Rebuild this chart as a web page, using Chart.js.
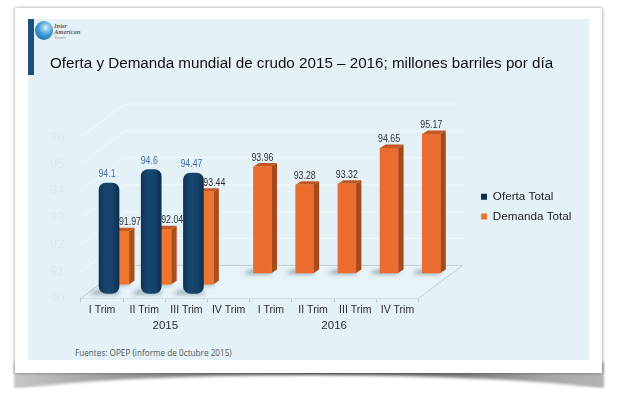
<!DOCTYPE html>
<html>
<head>
<meta charset="utf-8">
<title>Oferta y Demanda mundial de crudo</title>
<script src="https://cdn.jsdelivr.net/npm/chart.js@4"></script>
<style>
  html, body { margin: 0; padding: 0; background: #fff; }
  #page { position: relative; width: 622px; height: 393px; overflow: hidden; font-family: "Liberation Sans", Arial, sans-serif; }
  #curl { position: absolute; left: 14px; top: 362px; width: 590px; height: 26px;
          background: linear-gradient(to right, #c8c8c8, #a0a0a0 15%, #585858 50%, #777 75%, #a6a6a6 90%, #b4b4b4);
          filter: blur(1px); }
  #curlCut { position: absolute; left: 0; top: 375px; width: 622px; height: 22px; background: #fff;
             border-radius: 50% / 100% 100% 0 0; filter: blur(1.5px); }
  #card { position: absolute; left: 15px; top: 8px; width: 587px; height: 365px; background: #fff;
          box-shadow: -1px 0 3px rgba(0,0,0,.22), 1px 0 3px rgba(0,0,0,.22); }
  #panel { position: absolute; left: 28px; top: 19px; width: 561px; height: 341px; background: #e4f2f8; }
  #sidebar { position: absolute; left: 28px; top: 19px; width: 6px; height: 56px; background: #1d4f7c; }
  #globe { position: absolute; left: 35px; top: 21px; width: 18px; height: 19px; border-radius: 50%;
           background: radial-gradient(circle at 60% 35%, #d7eef8, #3f9ad2 45%, #0f5c9c); }
  .logo { position: absolute; left: 54px; font: italic bold 6.5px "Liberation Serif", serif; color: #55606a; }
  #source { position: absolute; left: 75px; top: 347px; font: 8.2px "Open Sans", sans-serif; color: #555; white-space: nowrap; }
  canvas { position: absolute; left: 0; top: 0; }
</style>
</head>
<body>
<div id="page">
  <div id="curl"></div>
  <div id="curlCut"></div>
  <div id="card"></div>
  <div id="panel"></div>
  <div id="sidebar"></div>
  <div id="globe"></div>
  <div class="logo" style="top:22px">Inter</div>
  <div class="logo" style="top:28px">American</div>
  <div class="logo" style="top:35px;font-size:4.5px;font-weight:normal;color:#8a949c">Trends</div>
  <div id="source">Fuentes: OPEP (informe de 0ctubre 2015)</div>
  <canvas id="chart1" width="622" height="393"></canvas>
</div>

<script>
const categories = ["I Trim", "II Trim", "III Trim", "IV Trim", "I Trim", "II Trim", "III Trim", "IV Trim"];
const years = ["2015", "2016"];
const yTicks = [90, 91, 92, 93, 94, 95, 96];
const ofertaTotal = [94.1, 94.6, 94.47, null, null, null, null, null];
const demandaTotal = [91.97, 92.04, 93.44, 93.96, 93.28, 93.32, 94.65, 95.17];

const PX_PER_UNIT = 26.5;
const SLOT = 42.4;
const DEPTH_X = 44, DEPTH_Y = 33;

const toPoints = arr => arr.map((v, i) => ({ x: i, y: v }));
const hideAfter = (arr, n) => arr.map((v, i) => (i < n ? v : null));
const hideBefore = (arr, n) => arr.map((v, i) => (i < n ? null : v));

// hidden scales, same size as the visible ones but moved to fake the depth rows
const shiftX = px => ({ type: "linear", display: false, offset: false, grid: { display: false },
    min: -0.5 - px / SLOT, max: categories.length - 0.5 - px / SLOT });
const shiftY = px => ({ type: "linear", display: false, grid: { display: false },
    min: yTicks[0] - px / PX_PER_UNIT, max: yTicks[yTicks.length - 1] - px / PX_PER_UNIT });

const ofertaFill = ctx => {
    if (ctx.type !== "data") return "#1a4a7a";
    const x = ctx.chart.scales.xFront.getPixelForValue(ctx.dataIndex);
    if (!Number.isFinite(x)) return "#1a4a7a";
    const g = ctx.chart.ctx.createLinearGradient(x - 10, 0, x + 10, 0);
    g.addColorStop(0, "#0f3357");
    g.addColorStop(0.3, "#17466f");
    g.addColorStop(0.7, "#154269");
    g.addColorStop(1, "#0d2e50");
    return g;
};

const bars3d = {
    id: "bars3d",
    beforeDatasetsDraw(chart) {
        const { ctx, scales: { x, y } } = chart;
        const x0 = x.left, x1 = x.right, yb = y.bottom;
        ctx.save();
        // floor
        ctx.fillStyle = "#e6f3f8";
        ctx.beginPath();
        ctx.moveTo(x0, yb);
        ctx.lineTo(x1, yb);
        ctx.lineTo(x1 + DEPTH_X, yb - DEPTH_Y);
        ctx.lineTo(x0 + DEPTH_X, yb - DEPTH_Y);
        ctx.closePath();
        ctx.fill();
        // walls
        ctx.strokeStyle = "#f1f8fb";
        ctx.lineWidth = 1;
        yTicks.slice(1).forEach(t => {
            const py = y.getPixelForValue(t);
            ctx.beginPath();
            ctx.moveTo(x0, py);
            ctx.lineTo(x0 + DEPTH_X, py - DEPTH_Y);
            ctx.lineTo(x1 + DEPTH_X, py - DEPTH_Y);
            ctx.stroke();
        });
        ctx.strokeStyle = "#c3cdd1";
        ctx.beginPath();
        ctx.moveTo(x0, yb);
        ctx.lineTo(x0 + DEPTH_X, yb - DEPTH_Y);
        ctx.lineTo(x1 + DEPTH_X, yb - DEPTH_Y);
        ctx.lineTo(x1, yb);
        ctx.stroke();
        ctx.restore();
    },
    beforeDatasetDraw(chart, args) {
        const ds = chart.data.datasets[args.index];
        const { ctx } = chart;
        args.meta.data.forEach((bar, i) => {
            if (ds.data[i].y === null) return;
            const l = bar.x - bar.width / 2, r = bar.x + bar.width / 2;
            ctx.save();
            ctx.filter = "blur(2px)";
            ctx.fillStyle = "rgba(70,100,115,0.55)";
            ctx.beginPath();
            ctx.moveTo(l - 10, bar.base + 1);
            ctx.lineTo(r, bar.base + 1);
            ctx.lineTo(r, bar.base - 3);
            ctx.lineTo(l - 4, bar.base - 3);
            ctx.closePath();
            ctx.fill();
            ctx.restore();
            if (!ds.sideColor) return;
            const dx = 5.5, dy = 3.5;
            ctx.fillStyle = ds.sideColor;
            ctx.beginPath();
            ctx.moveTo(r, bar.y);
            ctx.lineTo(r + dx, bar.y - dy);
            ctx.lineTo(r + dx, bar.base - dy);
            ctx.lineTo(r, bar.base);
            ctx.closePath();
            ctx.fill();
            ctx.fillStyle = ds.topColor;
            ctx.beginPath();
            ctx.moveTo(l, bar.y);
            ctx.lineTo(l + dx, bar.y - dy);
            ctx.lineTo(r + dx, bar.y - dy);
            ctx.lineTo(r, bar.y);
            ctx.closePath();
            ctx.fill();
        });
    },
    afterDatasetsDraw(chart) {
        const { ctx, scales: { x, y } } = chart;
        ctx.save();
        ctx.textAlign = "center";
        ctx.textBaseline = "middle";
        chart.data.datasets.forEach((ds, d) => {
            ctx.font = "11px 'Liberation Sans', sans-serif";
            ctx.fillStyle = ds.labelColor;
            chart.getDatasetMeta(d).data.forEach((bar, i) => {
                if (ds.data[i].y === null) return;
                // reference labels are condensed
                ctx.save();
                ctx.translate(bar.x + ds.labelDx, bar.y - 9);
                ctx.scale(0.8, 1);
                ctx.fillText(String(ds.data[i].y), 0, 0);
                ctx.restore();
            });
        });
        // year under each group of four quarters
        ctx.font = "11.5px 'Liberation Sans', sans-serif";
        ctx.fillStyle = "#2b2b2b";
        years.forEach((yr, i) => {
            ctx.fillText(yr, x.getPixelForValue(i * 4 + 1.5), y.bottom + 27);
        });
        ctx.restore();
    },
    afterLayout(chart) {
        // legend sits to the right of the depth walls, not against the chart area
        const lg = chart.legend;
        const w = lg.right - lg.left, h = lg.bottom - lg.top;
        lg.left = 473; lg.right = 473 + w;
        lg.top = 183; lg.bottom = 183 + h;
        // title gets squeezed to the padded width otherwise
        chart.titleBlock.right = 600;
    }
};

new Chart(document.getElementById("chart1").getContext("2d"), {
    type: "bar",
    data: {
        labels: categories,
        datasets: [
            { label: "Oferta Total", data: toPoints(ofertaTotal), xAxisID: "xFront", yAxisID: "yFront",
              backgroundColor: ofertaFill, borderRadius: 7, borderSkipped: false, barThickness: 20,
              labelColor: "#3f6ea6", labelDx: -2 },
            { label: "Demanda Total", data: toPoints(hideAfter(demandaTotal, 3)), xAxisID: "xMid", yAxisID: "yMid",
              backgroundColor: "#ef7630", barThickness: 18, sideColor: "#a94f1e", topColor: "#c25a22",
              labelColor: "#333", labelDx: 10 },
            { label: "Demanda Total 2016", data: toPoints(hideBefore(demandaTotal, 3)), xAxisID: "xBack", yAxisID: "yBack",
              backgroundColor: "#ea6d2f", barThickness: 18, sideColor: "#a54b1b", topColor: "#c05720",
              labelColor: "#333", labelDx: 0 }
        ]
    },
    options: {
        responsive: false,
        animation: false,
        clip: false,
        datasets: { bar: { grouped: false, base: yTicks[0], clip: false } },
        layout: { padding: { left: 50, right: 95, bottom: 76, top: 0 } },
        plugins: {
            tooltip: { enabled: false },
            title: {
                display: true,
                text: "Oferta y Demanda mundial de crudo 2015 – 2016; millones barriles por día",
                align: "start",
                color: "#111",
                font: { family: "'Liberation Sans'", size: 15.2, weight: "normal" },
                padding: { top: 55, bottom: 63.8 }
            },
            legend: {
                position: "right",
                align: "start",
                labels: {
                    filter: item => item.datasetIndex < 2,
                    boxWidth: 6,
                    boxHeight: 6,
                    padding: 8,
                    color: "#222",
                    font: { family: "'Liberation Sans'", size: 11.7 }
                }
            }
        },
        scales: {
            x: {
                type: "category",
                grid: { drawOnChartArea: false, color: "#c3cdd1", tickLength: 4 },
                border: { color: "#c3cdd1" },
                ticks: { color: "#2b2b2b", padding: 1, maxRotation: 0, autoSkip: false,
                         font: { family: "'Liberation Sans'", size: 10.5 } }
            },
            y: {
                min: yTicks[0],
                max: yTicks[yTicks.length - 1],
                grid: { display: false, drawTicks: false },
                border: { display: false },
                ticks: { stepSize: 1, color: "#d9eaf2", padding: 8.25, crossAlign: "far",
                         font: { family: "'Liberation Sans'", size: 13 } }
            },
            xFront: shiftX(7), yFront: shiftY(5),
            xMid: shiftX(18), yMid: shiftY(14),
            xBack: shiftX(34), yBack: shiftY(25)
        }
    },
    plugins: [bars3d]
});
</script>
</body>
</html>
